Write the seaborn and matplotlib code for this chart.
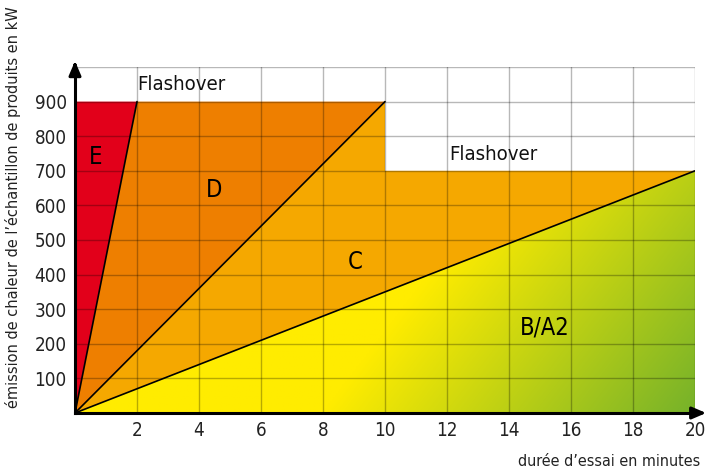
import numpy as np
import pandas as pd
import matplotlib
matplotlib.use("Agg")
import matplotlib.pyplot as plt
import seaborn as sns
from matplotlib.patches import Polygon
from matplotlib import font_manager as fm

# ---- data ----
x_ticks = [2, 4, 6, 8, 10, 12, 14, 16, 18, 20]
y_ticks = [100, 200, 300, 400, 500, 600, 700, 800, 900]
# class boundaries: lines from origin to (end_x, end_y)
boundary_names = ["E/D", "D/C", "C/B"]
boundary_end_x = [2, 10, 20]
boundary_end_y = [900, 900, 700]
# flashover ceilings
flash_x = [0, 10, 10, 20]
flash_y = [900, 900, 700, 700]
class_labels = ["E", "D", "C", "B/A2"]
class_label_x = [0.68, 4.5, 9.03, 15.16]
class_label_y = [740, 645, 436, 246]
class_colors = ["#E2001A", "#EE7F00", "#F5A800"]

sns.set_theme(style="white")

# pick a narrow font if one is available
family = ['DejaVu Sans']
stretch = 'normal'
for fam, st in [('Liberation Sans Narrow', 'normal'), ('DejaVu Sans', 'condensed')]:
    try:
        p = fm.findfont(fm.FontProperties(family=fam, stretch=st), fallback_to_default=False)
        if fam == 'Liberation Sans Narrow' or 'ondensed' in p:
            family = [fam, 'DejaVu Sans']
            stretch = st
            break
    except Exception:
        pass
plt.rcParams['font.family'] = family
plt.rcParams['font.stretch'] = stretch

fig = plt.figure(figsize=(7.08, 4.70), dpi=100)
ax = fig.add_axes([75/708, (470-413)/470, 620/708, (413-67)/470])
ax.set_xlim(0, 20)
ax.set_ylim(0, 1000)

# regions
E_poly = [(0, 0), (boundary_end_x[0], boundary_end_y[0]), (0, flash_y[0])]
D_poly = [(0, 0), (boundary_end_x[1], boundary_end_y[1]), (boundary_end_x[0], boundary_end_y[0])]
C_poly = [(0, 0), (boundary_end_x[2], boundary_end_y[2]), (flash_x[3], flash_y[3]),
          (flash_x[2], flash_y[2]), (boundary_end_x[1], boundary_end_y[1])]
B_poly = [(0, 0), (20, 0), (boundary_end_x[2], boundary_end_y[2])]
for poly, col in zip([E_poly, D_poly, C_poly], class_colors):
    ax.add_patch(Polygon(poly, closed=True, facecolor=col, edgecolor='none', zorder=1))

# gradient for B/A2
nx, ny = 400, 200
gx = np.linspace(0, 20, nx)
gy = np.linspace(0, 700, ny)
GX, GY = np.meshgrid(gx, gy)
t = np.clip((GX - 8) / 12 - 0.5 * GY / 700, 0, 1)
yellow = np.array([255, 236, 0]) / 255
green = np.array([118, 178, 42]) / 255
img = yellow[None, None, :] * (1 - t[..., None]) + green[None, None, :] * t[..., None]
im = ax.imshow(img, extent=[0, 20, 0, 700], origin='lower', aspect='auto', zorder=1)
clip = Polygon(B_poly, closed=True, transform=ax.transData, facecolor='none', edgecolor='none')
ax.add_patch(clip)
im.set_clip_path(clip)

# boundary lines
rows = []
for n, ex, ey in zip(boundary_names, boundary_end_x, boundary_end_y):
    rows.append({"name": n, "x": 0, "y": 0})
    rows.append({"name": n, "x": ex, "y": ey})
df = pd.DataFrame(rows)
sns.lineplot(data=df, x="x", y="y", units="name", estimator=None, color="black",
             linewidth=1.2, ax=ax, zorder=4, legend=False)

# grid
ax.set_xticks(x_ticks)
ax.set_yticks(y_ticks)
for xv in x_ticks:
    ax.axvline(xv, color='black', alpha=0.28, lw=1, zorder=3)
for yv in y_ticks + [1000]:
    ax.axhline(yv, color='black', alpha=0.28, lw=1, zorder=3)

ax.grid(False)
for s in ["top", "right"]:
    ax.spines[s].set_visible(False)
for s in ["left", "bottom"]:
    ax.spines[s].set_color("black")
    ax.spines[s].set_linewidth(2.2)
    ax.spines[s].set_zorder(5)
ax.tick_params(length=0, labelsize=13.5, colors='#222222', pad=6)
ax.set_xlabel("")
ax.set_ylabel("")

# arrows
ax.annotate("", xy=(0, 1025), xytext=(0, 990), xycoords='data',
            arrowprops=dict(arrowstyle='-|>,head_length=0.7,head_width=0.3', color='black', lw=2.2),
            annotation_clip=False, zorder=6)
ax.annotate("", xy=(20.45, 0), xytext=(19.8, 0), xycoords='data',
            arrowprops=dict(arrowstyle='-|>,head_length=0.7,head_width=0.3', color='black', lw=2.2),
            annotation_clip=False, zorder=6)

# labels
for lab, lx, ly in zip(class_labels, class_label_x, class_label_y):
    ax.text(lx, ly, lab, ha='center', va='center', fontsize=17, color='black', zorder=6)
f1 = ax.text(2.0, 948, "Flashover", ha='left', va='center', fontsize=16, color='#111111', zorder=6)
f2 = ax.text(12.06, 746, "Flashover", ha='left', va='center', fontsize=16, color='#111111', zorder=6)

yl = fig.text(13/708, (470-207)/470, "émission de chaleur de l’échantillon de produits en kW",
              rotation=90, ha='center', va='center', fontsize=13, color='#222222')
xl = fig.text(700/708, (470-462)/470, "durée d’essai en minutes", ha='right', va='center',
              fontsize=13, color='#222222')

# fit text sizes to the reference's pixel lengths
fig.canvas.draw()
r = fig.canvas.get_renderer()
for txt, target, vertical in [(yl, 402, True), (xl, 182, False), (f1, 89, False), (f2, 89, False)]:
    bb = txt.get_window_extent(r)
    length = bb.height if vertical else bb.width
    txt.set_fontsize(txt.get_fontsize() * target / length)

fig.savefig("out.png", dpi=100)
